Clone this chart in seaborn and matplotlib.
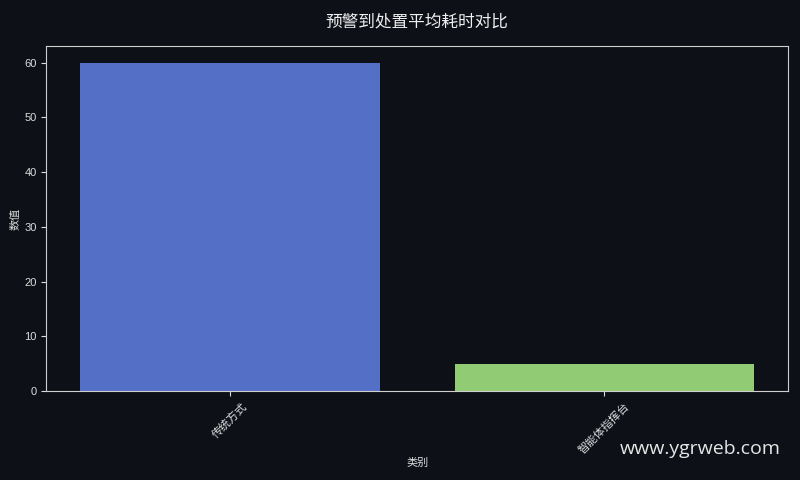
import matplotlib
matplotlib.use('Agg')
import pandas as pd
import seaborn as sns
from matplotlib import pyplot as plt

# 数据
categories = ['传统方式', '智能体指挥台']
values = [60, 5]
colors = ['#5470c6', '#91cc75']

bg = '#0d1017'
fg = '#dcdcdc'

sns.set_style('dark')
plt.rcParams['font.family'] = ['Liberation Sans', 'Noto Sans CJK SC', 'DejaVu Sans']
plt.rcParams['axes.unicode_minus'] = False

df = pd.DataFrame({'类别': categories, '数值': values})

fig = plt.figure(figsize=(8, 4.8), dpi=100, facecolor=bg)
ax = fig.add_axes([0.058, 0.185, 0.927, 0.719])
ax.set_facecolor(bg)

sns.barplot(data=df, x='类别', y='数值', hue='类别', palette=colors,
            width=0.8, legend=False, saturation=1, linewidth=0, ax=ax)

ax.set_xlim(-0.49, 1.49)
ax.set_ylim(0, 63)
ax.set_yticks([0, 10, 20, 30, 40, 50, 60])
ax.grid(False)

for s in ax.spines.values():
    s.set_visible(True)
    s.set_color('#cfcfcf')
    s.set_linewidth(0.8)

ax.tick_params(axis='both', colors=fg, labelsize=8, length=3.5, width=0.8,
               left=True, bottom=True)
plt.setp(ax.get_xticklabels(), rotation=45, ha='center')

ax.set_xlabel('类别', color=fg, fontsize=8, labelpad=2)
ax.set_ylabel('数值', color=fg, fontsize=8, labelpad=3)
ax.set_title('预警到处置平均耗时对比', color='#f0f0f0', fontsize=12, pad=14,
             family=['Noto Sans CJK SC'])

fig.text(0.976, 0.065, 'www.ygrweb.com', color='#e6e6e6', fontsize=14,
         ha='right', va='center', family=['Open Sans', 'DejaVu Sans'])

fig.savefig('out.png', dpi=100, facecolor=bg)
